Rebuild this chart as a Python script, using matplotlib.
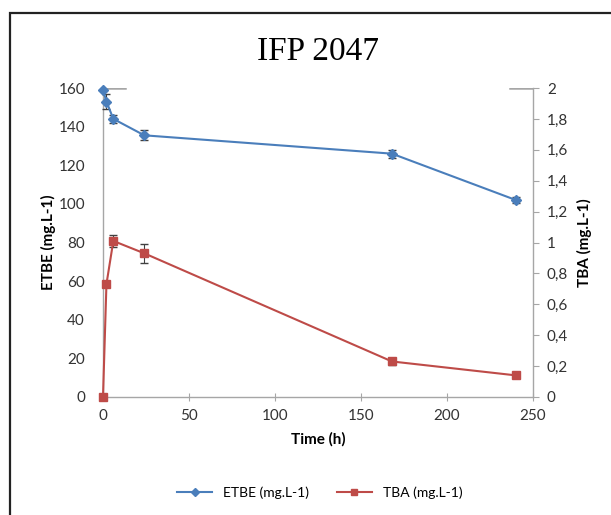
import matplotlib
matplotlib.use('Agg')
from matplotlib import pyplot as plt
from matplotlib.patches import Rectangle
from matplotlib.lines import Line2D

time_h = [0, 2, 6, 24, 168, 240]
etbe = [159, 153, 144, 135.5, 126, 102]
etbe_err = [0, 4, 2, 2.5, 2, 1.5]
tba = [0, 0.73, 1.01, 0.93, 0.23, 0.14]
tba_err = [0, 0, 0.04, 0.06, 0.02, 0.01]

x_ticks = [0, 50, 100, 150, 200, 250]
left_ticks = [0, 20, 40, 60, 80, 100, 120, 140, 160]
right_ticks = [0, 0.2, 0.4, 0.6, 0.8, 1, 1.2, 1.4, 1.6, 1.8, 2]

plt.rcParams['font.family'] = ['Lato', 'DejaVu Sans']
blue = '#4a7ebb'
red = '#be4b48'
grey = '#a6a6a6'

fig = plt.figure(figsize=(6.11, 5.15), dpi=100)
fig.patches.append(Rectangle((10 / 611, -0.1), 1.2, 1 - 13 / 515 + 0.1,
                             transform=fig.transFigure, fill=False,
                             edgecolor='#222222', linewidth=1.6))

ax = fig.add_axes([103 / 611, 1 - 397 / 515, 430 / 611, 309 / 515])
ax2 = ax.twinx()

e1 = ax.errorbar(time_h, etbe, yerr=etbe_err, color=blue, marker='D',
                 markersize=5.5, linewidth=1.5, ecolor='#404040',
                 elinewidth=0.8, capsize=3, zorder=3)
e2 = ax2.errorbar(time_h, tba, yerr=tba_err, color=red, marker='s',
                  markersize=6, linewidth=1.5, ecolor='#404040',
                  elinewidth=0.8, capsize=3, zorder=3)
for art in list(e1.get_children()) + list(e2.get_children()):
    art.set_clip_on(False)

ax.set_xlim(0, 250)
ax.set_ylim(0, 160)
ax2.set_ylim(0, 2)
ax.set_xticks(x_ticks)
ax.set_yticks(left_ticks)
ax2.set_yticks(right_ticks)
ax2.set_yticklabels([('%g' % v).replace('.', ',') for v in right_ticks])

for a in (ax, ax2):
    for s in a.spines.values():
        s.set_visible(False)
ax.spines['left'].set_visible(True)
ax.spines['bottom'].set_visible(True)
ax2.spines['right'].set_visible(True)
for s in (ax.spines['left'], ax.spines['bottom'], ax2.spines['right']):
    s.set_color(grey)
    s.set_linewidth(1)

ax.tick_params(axis='x', direction='inout', length=6, color=grey,
               labelsize=11, labelcolor='#333333', pad=6)
ax.tick_params(axis='y', length=0, labelsize=11, labelcolor='#333333', pad=13)
ax2.tick_params(axis='y', length=4, color=grey, labelsize=11,
                labelcolor='#333333', pad=6)

ax.axhline(160, xmin=0, xmax=0.05, color=grey, linewidth=1.8, zorder=1)
ax2.axhline(2, xmin=0.947, xmax=1, color=grey, linewidth=1.8, zorder=1)

ax.set_xlabel('Time (h)', fontsize=11, fontweight='bold', labelpad=6)
ax.set_ylabel('ETBE (mg.L-1)', fontsize=11, fontweight='bold', labelpad=2)
ax2.set_ylabel('TBA (mg.L-1)', fontsize=11, fontweight='bold', labelpad=6)

fig.text(0.52, 1 - 52 / 515, 'IFP 2047', family='Liberation Serif',
         fontsize=24, ha='center', va='center')

handles = [Line2D([], [], color=blue, marker='D', markersize=4, linewidth=1.5),
           Line2D([], [], color=red, marker='s', markersize=4, linewidth=1.5)]
fig.legend(handles, ['ETBE (mg.L-1)', 'TBA (mg.L-1)'], loc='center',
           bbox_to_anchor=(320 / 611, 1 - 493 / 515), ncol=2, frameon=False,
           fontsize=10, handlelength=2.5, columnspacing=2)

fig.savefig('out.png', dpi=100)
